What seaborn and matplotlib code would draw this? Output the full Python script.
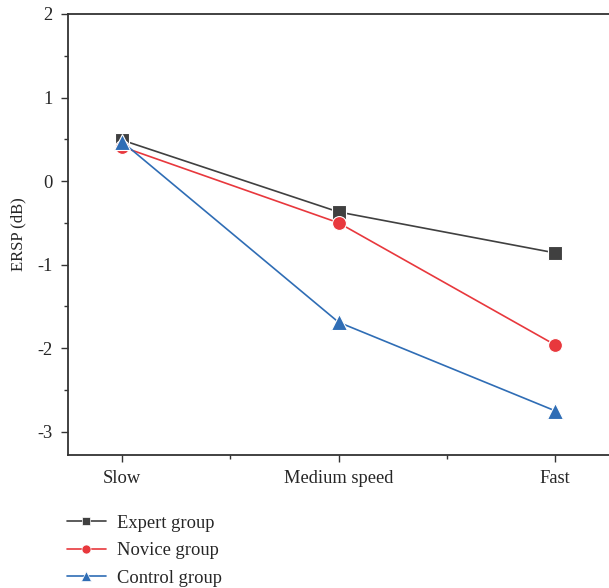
import pandas as pd
import seaborn as sns
import matplotlib.pyplot as plt
from matplotlib.ticker import MultipleLocator

speeds = ['Slow', 'Medium speed', 'Fast']
expert = [0.49, -0.37, -0.86]
novice = [0.41, -0.50, -1.96]
control = [0.47, -1.69, -2.75]
groups = ['Expert group', 'Novice group', 'Control group']
colors = ['#404040', '#e8383d', '#2f6db5']
marks = ['s', 'o', '^']

rows = []
for g, vals in zip(groups, [expert, novice, control]):
    for i, v in enumerate(vals):
        rows.append({'pos': i, 'ERSP': v, 'group': g})
df = pd.DataFrame(rows)

sns.set_style('ticks')
plt.rcParams['font.family'] = ['Liberation Serif', 'DejaVu Serif']
plt.rcParams['axes.unicode_minus'] = False

fig = plt.figure(figsize=(6.09, 5.88), dpi=100)
ax = fig.add_axes([0.1117, 0.2262, 0.8883, 0.7500])

sns.lineplot(data=df, x='pos', y='ERSP', hue='group', style='group',
             markers=marks, dashes=False, palette=colors,
             markersize=10, markeredgecolor='white', markeredgewidth=0.8,
             linewidth=1.2, ax=ax, legend=False)
# triangles read larger in the original
for ln in ax.lines:
    if ln.get_marker() == '^':
        ln.set_markersize(12)

ax.set_xlim(-0.25, 2.25)
ax.set_ylim(-3.28, 2)
ax.set_xticks(range(len(speeds)))
ax.set_xticklabels(speeds, fontsize=13.3)
ax.xaxis.set_minor_locator(MultipleLocator(0.5))
ax.yaxis.set_major_locator(MultipleLocator(1))
ax.yaxis.set_minor_locator(MultipleLocator(0.5))
ax.tick_params(axis='y', labelsize=13.3)
ax.tick_params(which='major', length=5, width=1, color='#333333', direction='out', pad=6)
ax.tick_params(which='minor', length=3, width=1, color='#333333', direction='out')
ax.set_xlabel('')
ax.set_ylabel('ERSP (dB)', fontsize=12, labelpad=8)
for s in ['left', 'bottom', 'top']:
    ax.spines[s].set_linewidth(1.3)
    ax.spines[s].set_color('#333333')
ax.spines['right'].set_visible(False)

handles = [plt.Line2D([], [], color=c, marker=m, markersize=ms, linewidth=1.2,
                      markeredgecolor='white', markeredgewidth=0.5)
           for c, m, ms in zip(colors, marks, [6, 6.5, 7.5])]
fig.legend(handles, groups, loc='upper left', bbox_to_anchor=(0.098, 0.137),
           frameon=False, fontsize=13.3, handlelength=2.1, handletextpad=0.6,
           labelspacing=0.56, borderaxespad=0)

fig.savefig('out.png', dpi=100)
